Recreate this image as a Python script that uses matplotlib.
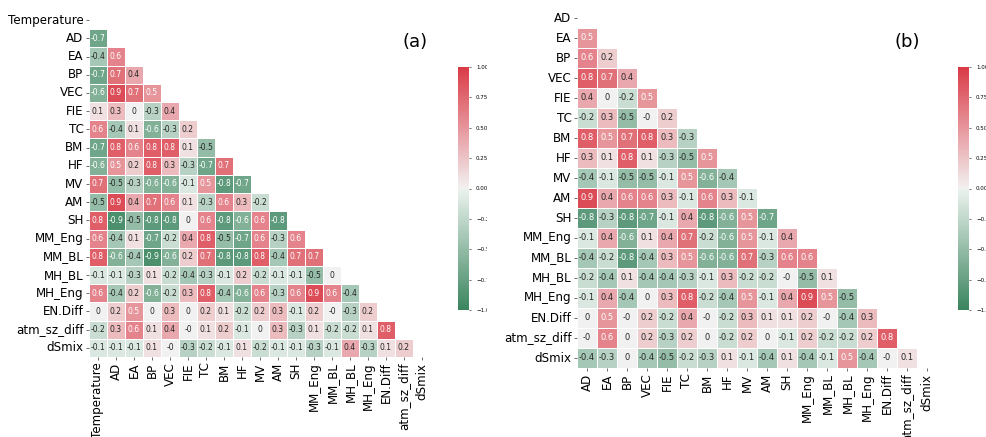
import numpy as np
import matplotlib
matplotlib.use("Agg")
import matplotlib.pyplot as plt
import seaborn as sns
from matplotlib.transforms import Bbox, TransformedBbox

# ---- panel (a): features including Temperature (lower triangle, row by row) ----
labels_a = ["Temperature", "AD", "EA", "BP", "VEC", "FIE", "TC", "BM", "HF", "MV",
            "AM", "SH", "MM_Eng", "MM_BL", "MH_BL", "MH_Eng", "EN.Diff",
            "atm_sz_diff", "dSmix"]
lower_a = [
    [],
    [-0.7],
    [-0.4, 0.6],
    [-0.7, 0.7, 0.4],
    [-0.6, 0.9, 0.7, 0.5],
    [0.1, 0.3, 0.0, -0.3, 0.4],
    [0.6, -0.4, 0.1, -0.6, -0.3, 0.2],
    [-0.7, 0.8, 0.6, 0.8, 0.8, 0.1, -0.5],
    [-0.6, 0.5, 0.2, 0.8, 0.3, -0.3, -0.7, 0.7],
    [0.7, -0.5, -0.3, -0.6, -0.6, -0.1, 0.5, -0.8, -0.7],
    [-0.5, 0.9, 0.4, 0.7, 0.6, 0.1, -0.3, 0.6, 0.3, -0.2],
    [0.8, -0.9, -0.5, -0.8, -0.8, 0.0, 0.6, -0.8, -0.6, 0.6, -0.8],
    [0.6, -0.4, 0.1, -0.7, -0.2, 0.4, 0.8, -0.5, -0.7, 0.6, -0.3, 0.6],
    [0.8, -0.6, -0.4, -0.9, -0.6, 0.2, 0.7, -0.8, -0.8, 0.8, -0.4, 0.7, 0.7],
    [-0.1, -0.1, -0.3, 0.1, -0.2, -0.4, -0.3, -0.1, 0.2, -0.2, -0.1, -0.1, -0.5, 0.0],
    [0.6, -0.4, 0.2, -0.6, -0.2, 0.3, 0.8, -0.4, -0.6, 0.6, -0.3, 0.6, 0.9, 0.6, -0.4],
    [0.0, 0.2, 0.5, 0.0, 0.3, 0.0, 0.2, 0.1, -0.2, 0.2, 0.3, -0.1, 0.2, -0.0, -0.3, 0.2],
    [-0.2, 0.3, 0.6, 0.1, 0.4, -0.0, 0.1, 0.2, -0.1, 0.0, 0.3, -0.3, 0.1, -0.2, -0.2, 0.1, 0.8],
    [-0.1, -0.1, -0.1, 0.1, -0.0, -0.3, -0.2, -0.1, 0.1, -0.2, -0.1, -0.1, -0.3, -0.1, 0.4, -0.3, 0.1, 0.2],
]

# ---- panel (b): features without Temperature ----
labels_b = ["AD", "EA", "BP", "VEC", "FIE", "TC", "BM", "HF", "MV", "AM", "SH",
            "MM_Eng", "MM_BL", "MH_BL", "MH_Eng", "EN.Diff", "atm_sz_diff", "dSmix"]
lower_b = [
    [],
    [0.5],
    [0.6, 0.2],
    [0.8, 0.7, 0.4],
    [0.4, 0.0, -0.2, 0.5],
    [-0.2, 0.3, -0.5, -0.0, 0.2],
    [0.8, 0.5, 0.7, 0.8, 0.3, -0.3],
    [0.3, 0.1, 0.8, 0.1, -0.3, -0.5, 0.5],
    [-0.4, -0.1, -0.5, -0.5, -0.1, 0.5, -0.6, -0.4],
    [0.9, 0.4, 0.6, 0.6, 0.3, -0.1, 0.6, 0.3, -0.1],
    [-0.8, -0.3, -0.8, -0.7, -0.1, 0.4, -0.8, -0.6, 0.5, -0.7],
    [-0.1, 0.4, -0.6, 0.1, 0.4, 0.7, -0.2, -0.6, 0.5, -0.1, 0.4],
    [-0.4, -0.2, -0.8, -0.4, 0.3, 0.5, -0.6, -0.6, 0.7, -0.3, 0.6, 0.6],
    [-0.2, -0.4, 0.1, -0.4, -0.4, -0.3, -0.1, 0.3, -0.2, -0.2, -0.0, -0.5, 0.1],
    [-0.1, 0.4, -0.4, 0.0, 0.3, 0.8, -0.2, -0.4, 0.5, -0.1, 0.4, 0.9, 0.5, -0.5],
    [0.0, 0.5, -0.0, 0.2, -0.2, 0.4, -0.0, -0.2, 0.3, 0.1, 0.1, 0.2, -0.0, -0.4, 0.3],
    [-0.0, 0.6, 0.0, 0.2, -0.3, 0.2, 0.0, -0.2, 0.2, 0.0, -0.1, 0.2, -0.2, -0.2, 0.2, 0.8],
    [-0.4, -0.3, 0.0, -0.4, -0.5, -0.2, -0.3, 0.1, -0.1, -0.4, 0.1, -0.4, -0.1, 0.5, -0.4, -0.0, 0.1],
]


def to_matrix(lower):
    n = len(lower)
    m = np.eye(n)
    for i, row in enumerate(lower):
        for j, v in enumerate(row):
            m[i, j] = v
            m[j, i] = v
    return m


W, H = 987, 437
fig = plt.figure(figsize=(W / 100, H / 100), dpi=100)


def px_axes(x0, y0, x1, y1):
    return fig.add_axes([x0 / W, 1 - y1 / H, (x1 - x0) / W, (y1 - y0) / H])


cmap = sns.diverging_palette(145, 10, as_cmap=True)


def draw(lower, labels, hm_box, cb_box, annot_size, tag, tag_xy, clip_right=None):
    corr = to_matrix(lower)
    mask = np.triu(np.ones_like(corr, dtype=bool))
    ax = px_axes(*hm_box)
    cax = px_axes(*cb_box)
    sns.heatmap(corr, mask=mask, cmap=cmap, vmin=-1, vmax=1, center=0,
                annot=True, annot_kws={"size": annot_size},
                linewidths=0.5, linecolor="white",
                xticklabels=labels, yticklabels=labels,
                ax=ax, cbar_ax=cax)
    ax.tick_params(axis="both", labelsize=8.6, length=2.5, width=0.6,
                   color="#555555", pad=1.5)
    ax.set_xticklabels(labels, rotation=90)
    ax.set_yticklabels(labels, rotation=0)
    cax.tick_params(labelsize=4, length=1.5, width=0.4)
    cax.set_yticks([-1, -0.75, -0.5, -0.25, 0, 0.25, 0.5, 0.75, 1])
    if clip_right is not None:
        clip = TransformedBbox(Bbox([[0, 0], [clip_right / W, 1]]), fig.transFigure)
        for t in cax.get_yticklabels():
            t.set_clip_on(True)
            t.set_clip_box(clip)
    fig.text(tag_xy[0] / W, 1 - tag_xy[1] / H, tag, fontsize=13,
             ha="center", va="center")


draw(lower_a, labels_a, (89, 11, 431, 357), (457.7, 67, 469, 310), 5.5,
     "(a)", (415, 42), clip_right=487)
draw(lower_b, labels_b, (577, 8, 937, 368), (957.7, 67, 969, 310), 6,
     "(b)", (907, 42))

fig.savefig("out.png", dpi=100)
